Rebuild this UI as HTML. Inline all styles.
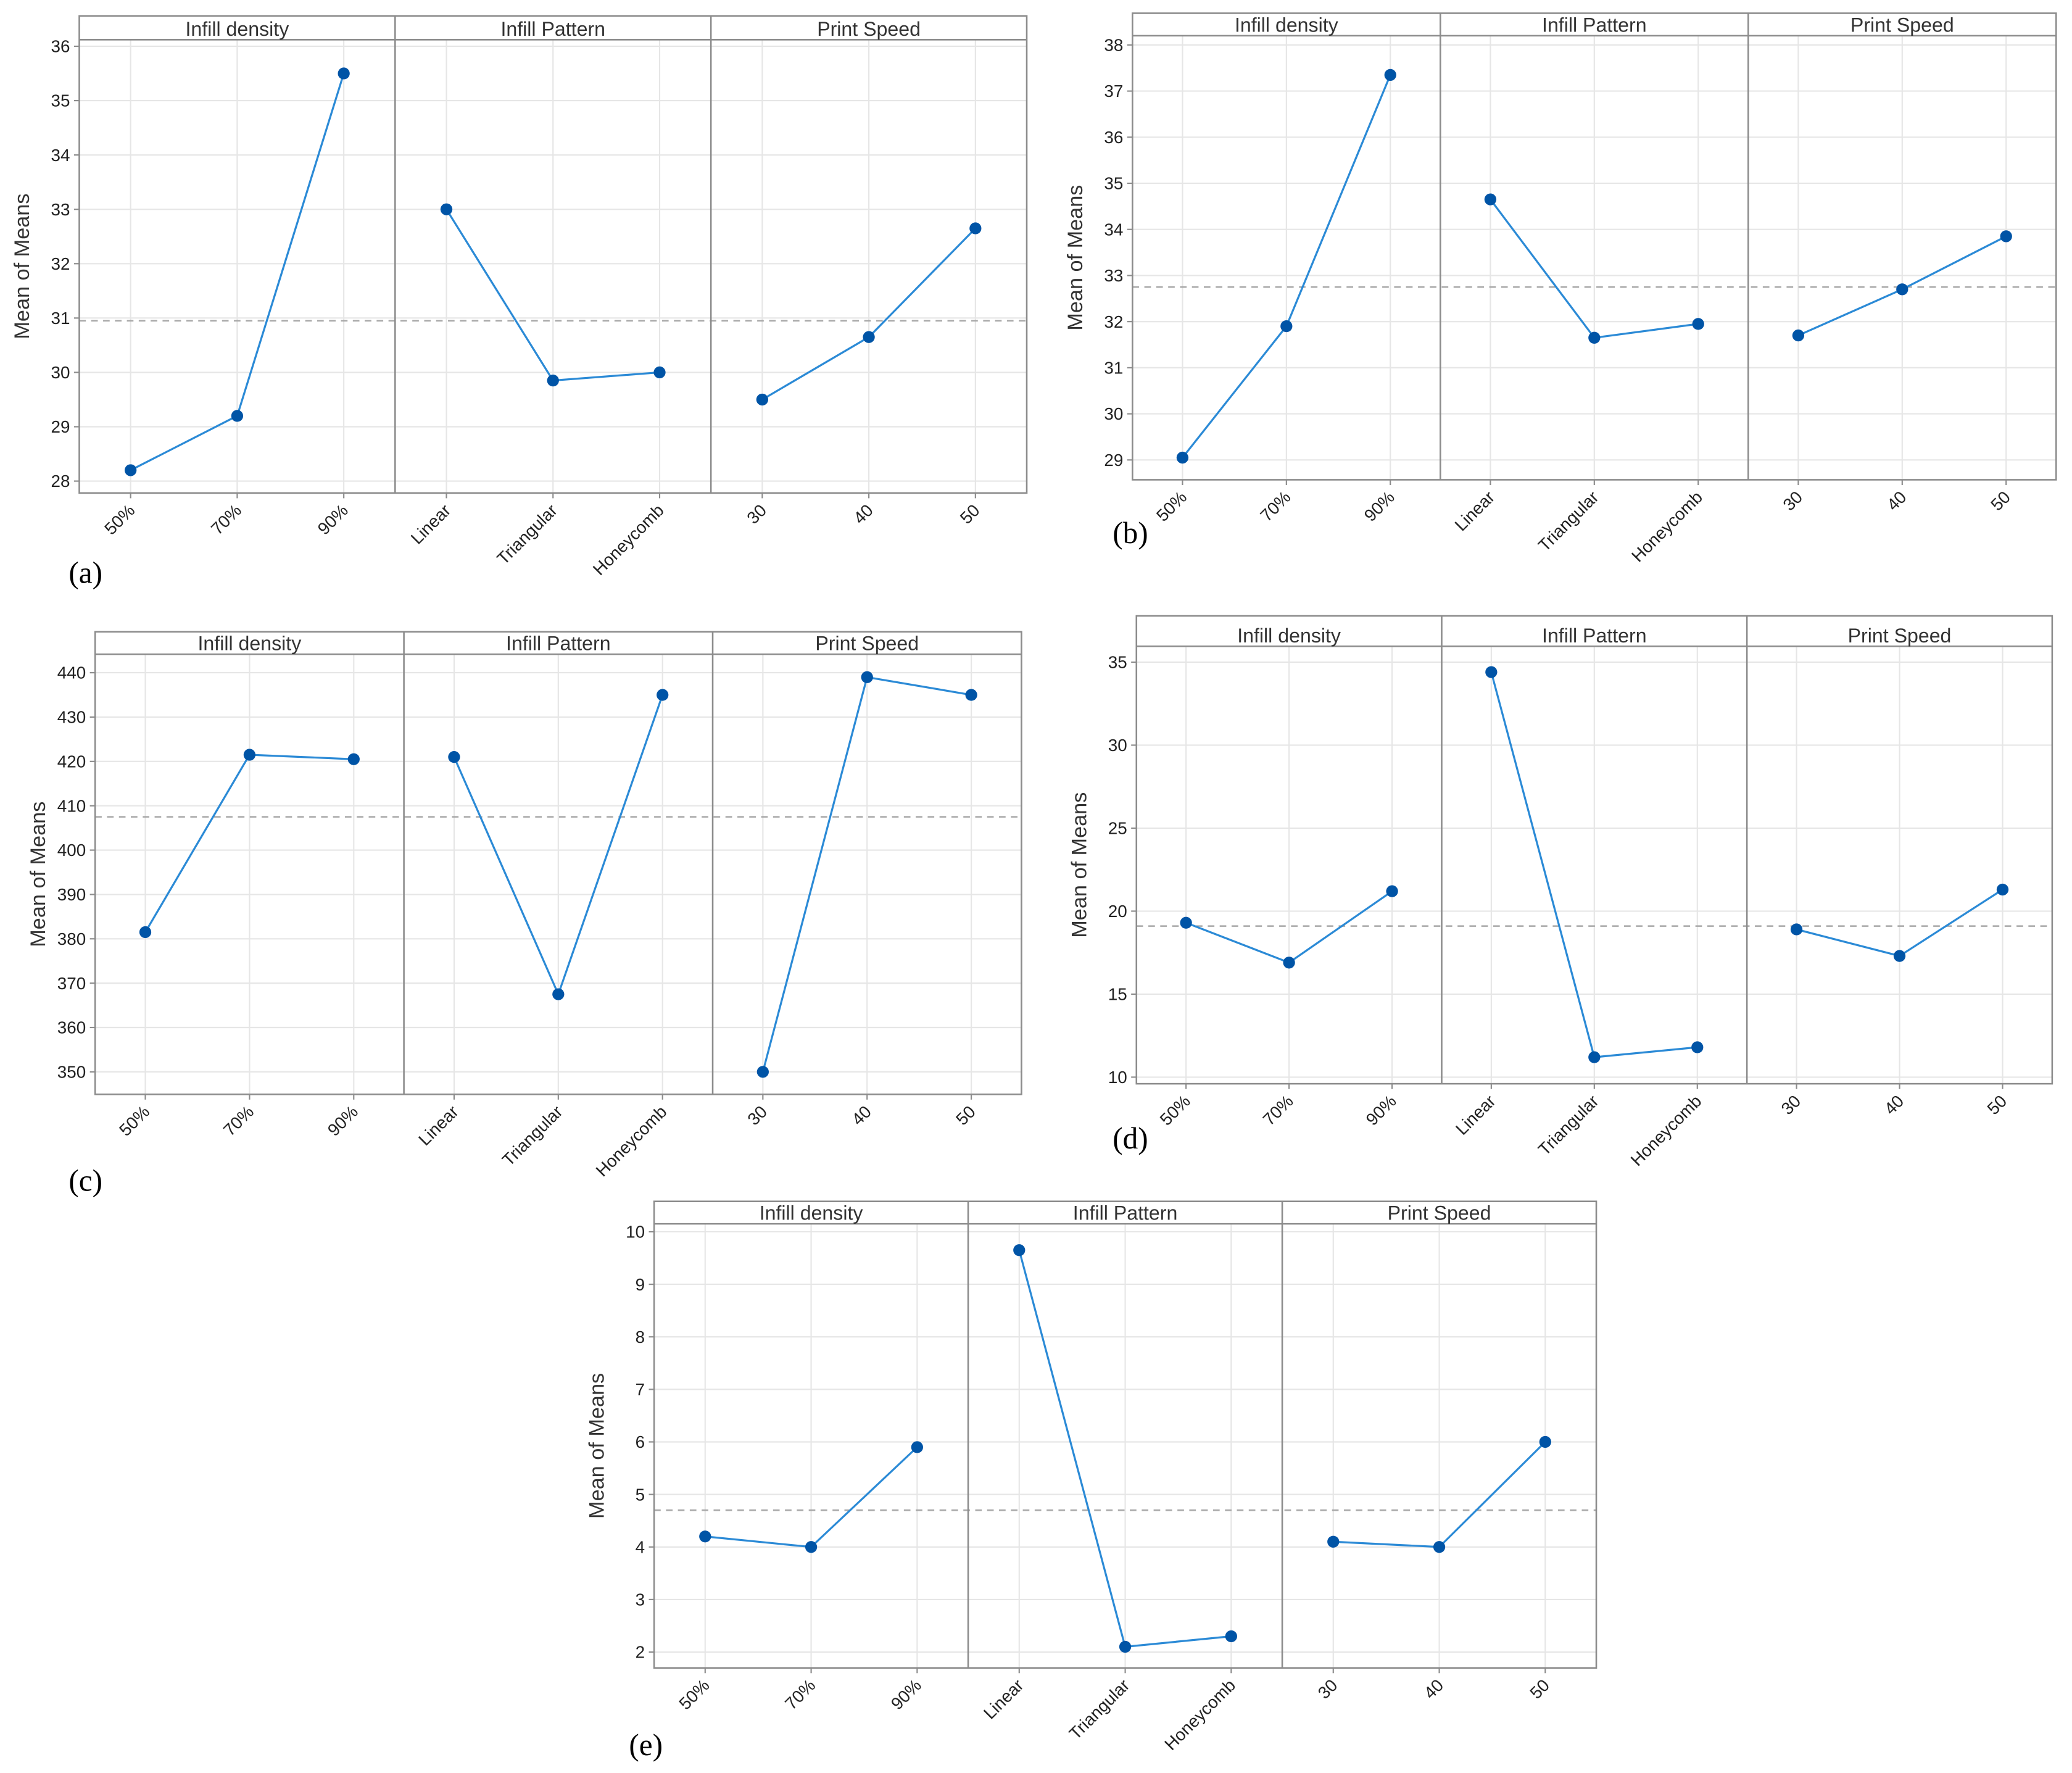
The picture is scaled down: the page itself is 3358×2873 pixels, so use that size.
<!DOCTYPE html>
<html><head><meta charset="utf-8"><style>
html,body{margin:0;padding:0;background:#fff;}
svg{display:block;}
</style></head><body>
<svg id="chart" width="3358" height="2873" viewBox="0 0 1568 1341.5" xmlns="http://www.w3.org/2000/svg" font-family="'Liberation Sans', 'DejaVu Sans', sans-serif"></svg>
<script>
const factorNames = ["Infill density", "Infill Pattern", "Print Speed"];
const levelsDensity = ["50%", "70%", "90%"];
const levelsPattern = ["Linear", "Triangular", "Honeycomb"];
const levelsSpeed = ["30", "40", "50"];

const aDensity = [28.2, 29.2, 35.5];
const aPattern = [33.0, 29.85, 30.0];
const aSpeed = [29.5, 30.65, 32.65];
const aMean = 30.95;
const aTicks = [28,29,30,31,32,33,34,35,36];

const bDensity = [29.05, 31.9, 37.35];
const bPattern = [34.65, 31.65, 31.95];
const bSpeed = [31.7, 32.7, 33.85];
const bMean = 32.75;
const bTicks = [29,30,31,32,33,34,35,36,37,38];

const cDensity = [381.5, 421.5, 420.5];
const cPattern = [421, 367.5, 435];
const cSpeed = [350, 439, 435];
const cMean = 407.5;
const cTicks = [350,360,370,380,390,400,410,420,430,440];

const dDensity = [19.3, 16.9, 21.2];
const dPattern = [34.4, 11.2, 11.8];
const dSpeed = [18.9, 17.3, 21.3];
const dMean = 19.1;
const dTicks = [10,15,20,25,30,35];

const eDensity = [4.2, 4.0, 5.9];
const ePattern = [9.65, 2.1, 2.3];
const eSpeed = [4.1, 4.0, 6.0];
const eMean = 4.7;
const eTicks = [2,3,4,5,6,7,8,9,10];

const NS = "http://www.w3.org/2000/svg";
const svg = document.getElementById("chart");
function mk(tag, attrs, parent){
  const e = document.createElementNS(NS, tag);
  for (const k in attrs) e.setAttribute(k, attrs[k]);
  (parent||svg).appendChild(e);
  return e;
}

// layout: frame box, header bottom, y pixel of two tick values
const panels = [
 {id:"a", x0:60, x1:777, y0:12, hb:30, y1:373, tA:36, pA:35, tB:28, pB:364, ticks:aTicks, series:[aDensity,aPattern,aSpeed], mean:aMean, lx:52, ly:441},
 {id:"b", x0:857, x1:1556, y0:10, hb:27, y1:363, tA:38, pA:34, tB:29, pB:348, ticks:bTicks, series:[bDensity,bPattern,bSpeed], mean:bMean, lx:842, ly:411},
 {id:"c", x0:72, x1:773, y0:478, hb:495, y1:828, tA:440, pA:509, tB:350, pB:811, ticks:cTicks, series:[cDensity,cPattern,cSpeed], mean:cMean, lx:52, ly:901},
 {id:"d", x0:860, x1:1553, y0:466, hb:489, y1:820, tA:35, pA:501, tB:10, pB:815, ticks:dTicks, series:[dDensity,dPattern,dSpeed], mean:dMean, lx:842, ly:869},
 {id:"e", x0:495, x1:1208, y0:909, hb:926, y1:1262, tA:10, pA:932, tB:2, pB:1250, ticks:eTicks, series:[eDensity,ePattern,eSpeed], mean:eMean, lx:476, ly:1328}
];
const levels = [levelsDensity, levelsPattern, levelsSpeed];

panels.forEach(p => {
  const g = mk("g", {});
  
  
  const yScale = v => p.pB + (v - p.tB) * (p.pA - p.pB) / (p.tA - p.tB);
  const subW = (p.x1 - p.x0) / 3;
  const xScale = (f, i) => p.x0 + f*subW + subW*(0.1625 + i*0.3375);

  // gridlines
  p.ticks.forEach(t => {
    const l = mk("line", {x1:p.x0, x2:p.x1, y1:yScale(t), y2:yScale(t), stroke:"#e6e6e6", "stroke-width":1}, g);
    
    
  });
  for (let f=0; f<3; f++) for (let i=0; i<3; i++) {
    const l = mk("line", {x1:xScale(f,i), x2:xScale(f,i), y1:p.hb, y2:p.y1, stroke:"#e6e6e6", "stroke-width":1}, g);
    
    
  }
  // mean line
  const ml = mk("line", {x1:p.x0, x2:p.x1, y1:yScale(p.mean), y2:yScale(p.mean), stroke:"#a8a8a8", "stroke-width":1.2, "stroke-dasharray":"5,4"}, g);
  
  

  // frame & header
  const fr = mk("rect", {x:p.x0, y:p.y0, width:p.x1-p.x0, height:p.y1-p.y0, fill:"none", stroke:"#8c8c8c", "stroke-width":1.2}, g);
  
  
  mk("line", {x1:p.x0, x2:p.x1, y1:p.hb, y2:p.hb, stroke:"#8c8c8c", "stroke-width":1.2}, g);
  for (let f=1; f<3; f++) {
    const d = mk("line", {x1:p.x0+f*subW, x2:p.x0+f*subW, y1:p.y0, y2:p.y1, stroke:"#8c8c8c", "stroke-width":1.2}, g);
    
    
  }
  factorNames.forEach((n, f) => {
    const t = mk("text", {x:p.x0+f*subW+subW/2, y:p.hb-3, "text-anchor":"middle", "font-size":15, fill:"#333"}, g);
    t.textContent = n;
    
    
  });
  // y ticks
  p.ticks.forEach(t => {
    const y = yScale(t);
    mk("line", {x1:p.x0-4, x2:p.x0, y1:y, y2:y, stroke:"#8c8c8c"}, g);
    const tx = mk("text", {x:p.x0-7, y:y+4.5, "text-anchor":"end", "font-size":13, fill:"#222"}, g);
    tx.textContent = t;
    
    
  });
  const yt = mk("text", {x:0, y:0, transform:`translate(${p.x0-38},${(p.hb+p.y1)/2}) rotate(-90)`, "text-anchor":"middle", "font-size":16, fill:"#333"}, g);
  yt.textContent = "Mean of Means";
  
  

  // series
  p.series.forEach((vals, f) => {
    const pts = vals.map((v,i) => xScale(f,i)+","+yScale(v)).join(" ");
    const pl = mk("polyline", {points:pts, fill:"none", stroke:"#2b8ad6", "stroke-width":1.5}, g);
    
    
    vals.forEach((v,i) => {
      const c = mk("circle", {cx:xScale(f,i), cy:yScale(v), r:4.5, fill:"#0054a6"}, g);
      
      
    });
    levels[f].forEach((lv,i) => {
      const x = xScale(f,i);
      mk("line", {x1:x, x2:x, y1:p.y1, y2:p.y1+4, stroke:"#8c8c8c"}, g);
      const t = mk("text", {x:0, y:0, transform:`translate(${x+4},${p.y1+14}) rotate(-45)`, "text-anchor":"end", "font-size":13, fill:"#222"}, g);
      t.textContent = lv;
      
      
    });
  });
  const lab = mk("text", {x:p.lx, y:p.ly, "font-size":23, "font-family":"'Liberation Serif', serif", fill:"#000"}, g);
  lab.textContent = "(" + p.id + ")";
  
  
});
</script>
</body></html>
